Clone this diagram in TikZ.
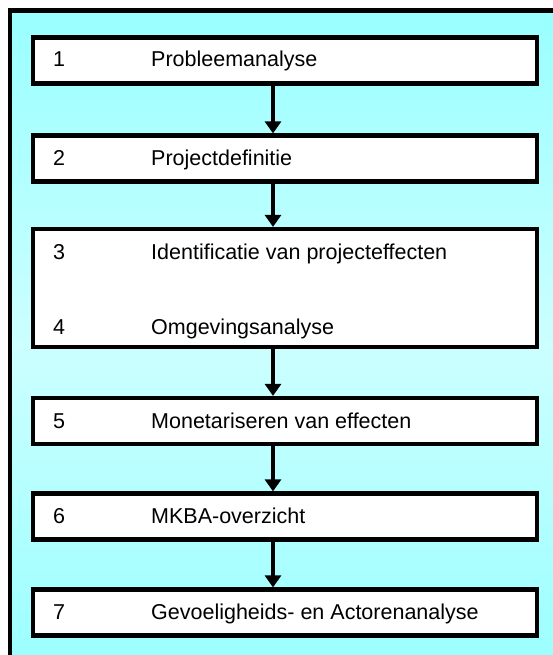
\documentclass[tikz,border=0pt]{standalone}
\usepackage{fontspec}
\setmainfont{Liberation Sans}
\usetikzlibrary{arrows.meta,shadows}
\definecolor{skyedge}{HTML}{99FFFF}
\definecolor{skymid}{HTML}{CCFFFF}
\begin{document}
\begin{tikzpicture}[x=1pt,y=-1pt,
  stepbox/.style={draw=black, line width=4.2pt, fill=white, inner sep=0pt,
    minimum width=504pt, minimum height=46pt,
    drop shadow={shadow xshift=1.5pt, shadow yshift=-1.5pt, fill=black!50, opacity=0.5}},
  flow/.style={line width=4.3pt, -{Triangle[width=16pt,length=12pt]}},
  txt/.style={anchor=base west, inner sep=0pt, font=\fontsize{21.5}{25}\selectfont}]
  \useasboundingbox (0,0) rectangle (553,655);
  % outer frame with vertical gradient, running off the right and bottom edges
  \begin{scope}
    \clip (0,0) rectangle (553,655);
    \shade[top color=skyedge, bottom color=skyedge, middle color=skymid]
      (10,10.5) rectangle (600,680);
    \draw[line width=4.2pt] (10,690) -- (10,10.5) -- (600,10.5);
  \end{scope}
  % process steps
  \node[stepbox] (b1) at (285,60.5) {};
  \node[stepbox] (b2) at (285,158.5) {};
  \node[stepbox, minimum height=118pt] (b34) at (285,288) {};
  \node[stepbox] (b5) at (285,421) {};
  \node[stepbox] (b6) at (285,516.5) {};
  \node[stepbox] (b7) at (285,612.5) {};
  % labels
  \node[txt] (n1) at (53,67) {1};
  \node[txt] (t1) at (151,67) {Probleemanalyse};
  \node[txt] (n2) at (53,165) {2};
  \node[txt] (t2) at (151,165) {Projectdefinitie};
  \node[txt] (n3) at (53,259) {3};
  \node[txt] (t3) at (151,259) {Identificatie van projecteffecten};
  \node[txt] (n4) at (53,334) {4};
  \node[txt] (t4) at (151,334) {Omgevingsanalyse};
  \node[txt] (n5) at (53,428) {5};
  \node[txt] (t5) at (151,428) {Monetariseren van effecten};
  \node[txt] (n6) at (53,523) {6};
  \node[txt] (t6) at (151,523) {MKBA-overzicht};
  \node[txt] (n7) at (53,619) {7};
  \node[txt] (t7) at (151,619) {Gevoeligheids- en Actorenanalyse};
  % connectors
  \draw[flow] (b1.south -| 273,0) -- (b2.north -| 273,0);
  \draw[flow] (b2.south -| 273,0) -- (b34.north -| 273,0);
  \draw[flow] (b34.south -| 273,0) -- (b5.north -| 273,0);
  \draw[flow] (b5.south -| 273,0) -- (b6.north -| 273,0);
  \draw[flow] (b6.south -| 273,0) -- (b7.north -| 273,0);
\end{tikzpicture}
\end{document}
